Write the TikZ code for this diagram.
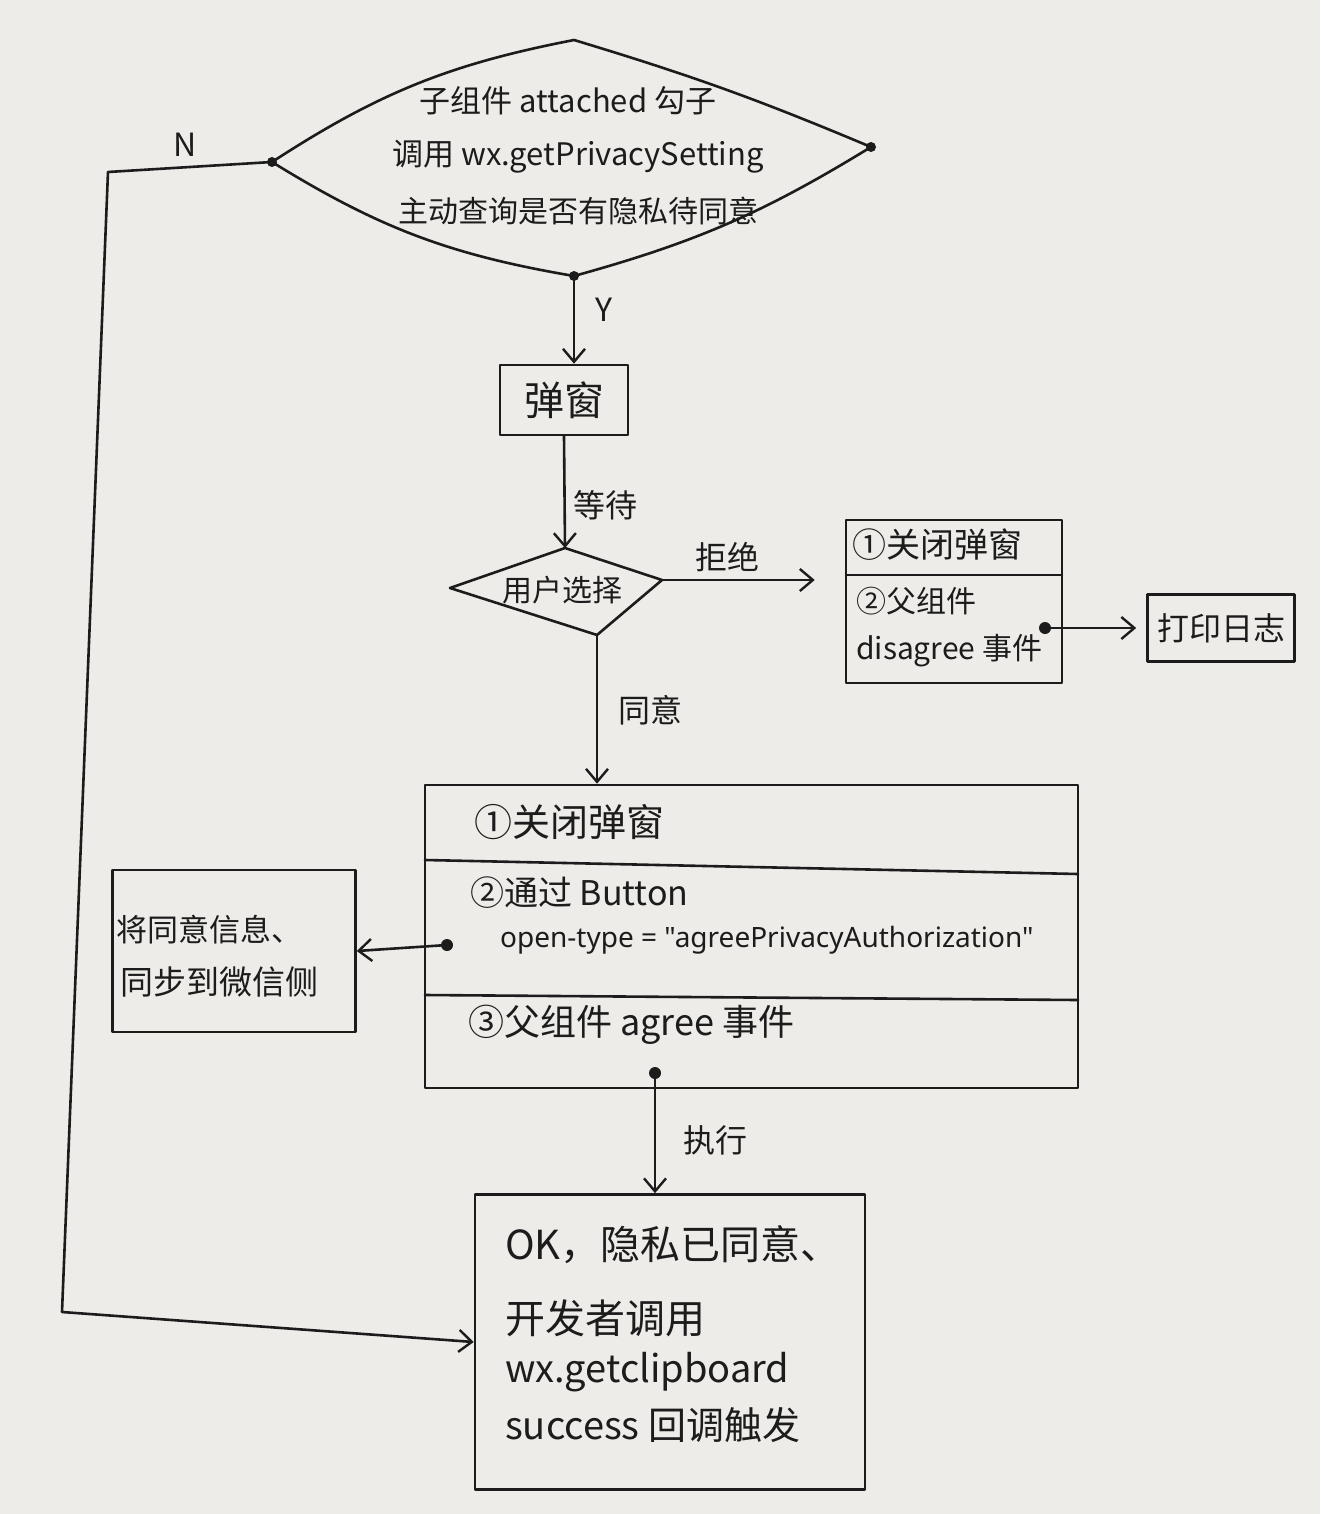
\documentclass[tikz,border=0pt]{standalone}
\usepackage{fontspec}
\setmainfont{Noto Sans CJK SC}
\newfontfamily\latinfont{Noto Sans}
\usetikzlibrary{arrows.meta,calc}
\definecolor{paper}{RGB}{237,236,233}
\definecolor{ink}{RGB}{28,28,28}
\tikzset{
  ink/.style={draw=ink, line width=2.6pt, line join=round, line cap=round},
  arr/.style={ink, -{Straight Barb[length=13pt,width=22pt,line width=2.4pt]}},
  box/.style={ink, rectangle, inner sep=0pt},
  txt/.style={text=ink, inner sep=0pt, font=\fontsize{#1}{#1}\selectfont},
  txt/.default=32,
  dot/.style={fill=ink},
}
\begin{document}
\begin{tikzpicture}[x=1pt,y=-1pt]
\useasboundingbox[fill=paper] (0,0) rectangle (1320,1514);

% top decision diamond
\coordinate (dT) at (574,40);
\coordinate (dL) at (272,162);
\coordinate (dR) at (871,147);
\coordinate (dB) at (574,276);
\draw[ink] (dT) to[bend left=3] (dR) to[bend left=8] (dB)
  to[bend left=11] (dL) to[bend left=11] cycle;
\fill[dot] (dL) circle (5);
\fill[dot] (dR) circle (5);
\fill[dot] (dB) circle (5);
\node[txt=31] (q1) at (568,101) {子组件 attached 勾子};
\node[txt=31] (q2) at (578,157) {调用 wx.getPrivacySetting};
\node[txt=30] (q3) at (578,211) {主动查询是否有隐私待同意};

% popup
\node[box, minimum width=128pt, minimum height=70pt] (pop) at (564,400) {};
\node[txt=40] (popt) at (pop) {弹窗};
\draw[arr] (dB) -- (dB |- pop.north);
\node[txt=32] (ylab) at (604,310) {Y};

% user choice diamond
\coordinate (cT) at (565,548);
\coordinate (cL) at (450,588);
\coordinate (cB) at (597,635);
\coordinate (cR) at (662,580);
\draw[ink] (cT) -- (cR) -- (cB) -- (cL) -- cycle;
\node[txt=30] (choice) at (562,590) {用户选择};
\draw[arr] (pop.south) -- (cT);
\node[txt=32] (wait) at (605,505) {等待};

% reject box
\node[box, minimum width=216pt, minimum height=163pt] (rej) at (954,601.5) {};
\coordinate (rejdivL) at (846,575);
\coordinate (rejdivR) at (1062,575);
\draw[ink] (rejdivL) -- (rejdivR);
\node[txt=34, anchor=west] (rej1) at (852,545) {①关闭弹窗};
\node[txt=30, anchor=west] (rej2) at (856,601) {②父组件};
\node[txt=30, anchor=west] (rej3) at (856,651) {disagree 事件};
\draw[arr, shorten >=30pt] (cR) -- (cR -| rej.west);
\node[txt=32] (refuse) at (727,557) {拒绝};

% log box
\node[box, minimum width=147pt, minimum height=67pt] (log) at (1221,628) {};
\node[txt=32] (logt) at (log) {打印日志};
\coordinate (dotR) at (1045,628);
\fill[dot] (dotR) circle (6);
\draw[arr, shorten >=10pt] (dotR) -- (log.west);

% agree box
\node[box, minimum width=653pt, minimum height=303pt] (big) at (751.5,936.5) {};
\coordinate (b1L) at (425,860);
\coordinate (b1R) at (1078,874);
\coordinate (b2L) at (425,995);
\coordinate (b2R) at (1078,1000);
\draw[ink] (b1L) -- (b1R);
\draw[ink] (b2L) -- (b2R);
\node[txt=38, anchor=west] (a1) at (474,822) {①关闭弹窗};
\node[txt=34, anchor=west] (a2) at (470,893) {②通过 Button};
\node[txt=28, anchor=west] (a3) at (500,940) {\latinfont open-type = "agreePrivacyAuthorization"};
\node[txt=36, anchor=west] (a4) at (468,1025) {③父组件 agree 事件};
\draw[arr] (cB) -- (cB |- big.north);
\node[txt=32] (agree) at (650,710) {同意};

% sync box
\node[box, minimum width=243pt, minimum height=162pt] (sync) at (234,951) {};
\node[txt=31, anchor=west] (s1) at (116,930) {将同意信息、};
\node[txt=33, anchor=west] (s2) at (120,982) {同步到微信侧};
\coordinate (dotL) at (447,945);
\fill[dot] (dotL) circle (6);
\draw[arr] (dotL) -- (sync.east);

% result box
\node[box, minimum width=390pt, minimum height=295pt] (ok) at (670,1342) {};
\node[txt=40, anchor=west] (o1) at (505,1245) {OK，隐私已同意、};
\node[txt=40, anchor=west] (o2) at (505,1318) {开发者调用};
\node[txt=38, anchor=west] (o3) at (505,1372) {wx.getclipboard};
\node[txt=38, anchor=west] (o4) at (505,1425) {success 回调触发};
\coordinate (dotB) at (655,1073);
\fill[dot] (dotB) circle (6);
\draw[arr] (dotB) -- (dotB |- ok.north);
\node[txt=32] (exec) at (715,1140) {执行};

% N loop
\coordinate (nA) at (108,172);
\coordinate (nB) at (62,1312);
\draw[arr] (dL) -- (nA) -- (nB) -- (ok.west);
\node[txt=32] (nlab) at (185,145) {N};
\end{tikzpicture}
\end{document}
